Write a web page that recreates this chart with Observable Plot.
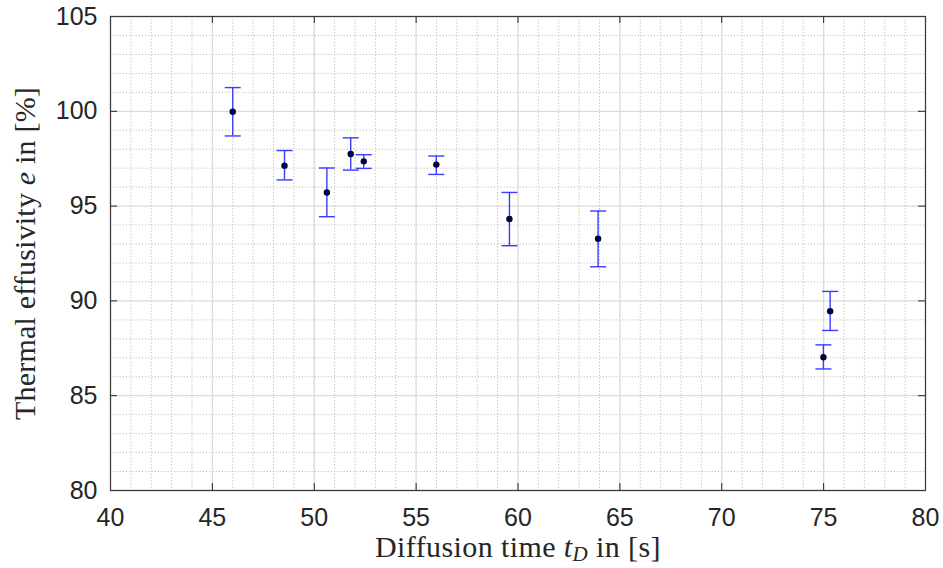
<!DOCTYPE html>
<html>
<head>
<meta charset="utf-8">
<script src="https://cdn.jsdelivr.net/npm/d3@7"></script>
<script src="https://cdn.jsdelivr.net/npm/@observablehq/plot@0.6"></script>
<style>
  html, body { margin: 0; padding: 0; background: #fff; }
</style>
</head>
<body>
<div id="chart"></div>
<script>
// Data
const diffusionTime = [46.0, 48.54, 50.62, 51.79, 52.43, 55.99, 59.58, 63.93, 75.32, 74.99];
const effusivity    = [99.98, 97.13, 95.72, 97.75, 97.36, 97.19, 94.32, 93.28, 89.46, 87.03];
const errLower      = [98.70, 96.38, 94.44, 96.90, 96.99, 96.67, 92.91, 91.80, 88.44, 86.41];
const errUpper      = [101.25, 97.93, 97.01, 98.60, 97.71, 97.64, 95.72, 94.74, 90.50, 87.68];

const xTicks = [40, 45, 50, 55, 60, 65, 70, 75, 80];
const yTicks = [80, 85, 90, 95, 100, 105];
const xMinor = d3.range(41, 80).filter(v => v % 5 !== 0);
const yMinor = d3.range(81, 105).filter(v => v % 5 !== 0);

const xLabel = "Diffusion time t_D in [s]";
const yLabel = "Thermal effusivity e in [%]";

const data = diffusionTime.map((x, i) => ({
  x, y: effusivity[i], lo: errLower[i], hi: errUpper[i]
}));

const capSymbol = {
  draw(ctx) { ctx.moveTo(-8, 0); ctx.lineTo(8, 0); }
};

const W = 943, H = 568;
const mL = 110, mR = 18, mT = 16, mB = 78;
const frameH = H - mT - mB;
const frameW = W - mL - mR;
const tickLen = 7;

const gridMajor = "#dadada";
const gridMinor = "#bdbdbd";
const axisColor = "#262626";
const barColor = "#3b3bff";

const plot = Plot.plot({
  width: W,
  height: H,
  marginLeft: mL,
  marginRight: mR,
  marginTop: mT,
  marginBottom: mB,
  style: { fontFamily: "'Liberation Sans', Arial, sans-serif", background: "#fff" },
  x: { domain: [40, 80] },
  y: { domain: [80, 105] },
  marks: [
    // minor grid (dotted)
    Plot.ruleX(xMinor, { stroke: gridMinor, strokeWidth: 1, strokeDasharray: "1.2,2" }),
    Plot.ruleY(yMinor, { stroke: gridMinor, strokeWidth: 1, strokeDasharray: "1.2,2" }),
    // major grid (solid)
    Plot.ruleX(xTicks, { stroke: gridMajor, strokeWidth: 1.3 }),
    Plot.ruleY(yTicks, { stroke: gridMajor, strokeWidth: 1.3 }),
    // inward ticks on all four sides
    Plot.ruleX(xTicks, { stroke: axisColor, strokeWidth: 1, insetTop: frameH - tickLen }),
    Plot.ruleX(xTicks, { stroke: axisColor, strokeWidth: 1, insetBottom: frameH - tickLen }),
    Plot.ruleY(yTicks, { stroke: axisColor, strokeWidth: 1, insetRight: frameW - tickLen }),
    Plot.ruleY(yTicks, { stroke: axisColor, strokeWidth: 1, insetLeft: frameW - tickLen }),
    Plot.frame({ stroke: "#3a3a3a", strokeWidth: 1.2 }),
    // axes labels
    Plot.axisX(xTicks, {
      tickSize: 0, tickPadding: 18, fontSize: 25, color: axisColor,
      label: xLabel, labelAnchor: "center", labelOffset: 66, labelArrow: "none"
    }),
    Plot.axisY(yTicks, {
      tickSize: 0, tickPadding: 13, fontSize: 25, color: axisColor,
      label: yLabel, labelAnchor: "center", labelOffset: 97, labelArrow: "none"
    }),
    // error bars
    Plot.ruleX(data, { x: "x", y1: "lo", y2: "hi", stroke: barColor, strokeWidth: 1.4 }),
    Plot.dot(data, { x: "x", y: "lo", symbol: capSymbol, r: 8, stroke: barColor, strokeWidth: 1.4, fill: "none" }),
    Plot.dot(data, { x: "x", y: "hi", symbol: capSymbol, r: 8, stroke: barColor, strokeWidth: 1.4, fill: "none" }),
    // points
    Plot.dot(data, { x: "x", y: "y", r: 3.2, fill: "#00003a", stroke: "none" })
  ]
});

document.getElementById("chart").appendChild(plot);

// Style axis labels as LaTeX-like serif text with italic math parts
const svg = d3.select(plot);
svg.selectAll("text").each(function () {
  const t = d3.select(this);
  const txt = this.textContent;
  if (txt === xLabel) {
    t.text(null)
      .style("font-family", "'Liberation Serif', 'Times New Roman', serif")
      .style("font-size", "30px")
      .style("letter-spacing", "0.4px")
      .attr("fill", axisColor);
    t.append("tspan").text("Diffusion time ");
    t.append("tspan").attr("font-style", "italic").text("t");
    t.append("tspan").attr("font-style", "italic").attr("font-size", "21px").attr("baseline-shift", "-4").text("D");
    t.append("tspan").text(" in [s]");
  } else if (txt === yLabel) {
    t.text(null)
      .style("font-family", "'Liberation Serif', 'Times New Roman', serif")
      .style("font-size", "30px")
      .style("letter-spacing", "0.2px")
      .attr("fill", axisColor);
    t.append("tspan").text("Thermal effusivity ");
    t.append("tspan").attr("font-style", "italic").text("e");
    t.append("tspan").text(" in [%]");
  }
});
</script>
</body>
</html>
